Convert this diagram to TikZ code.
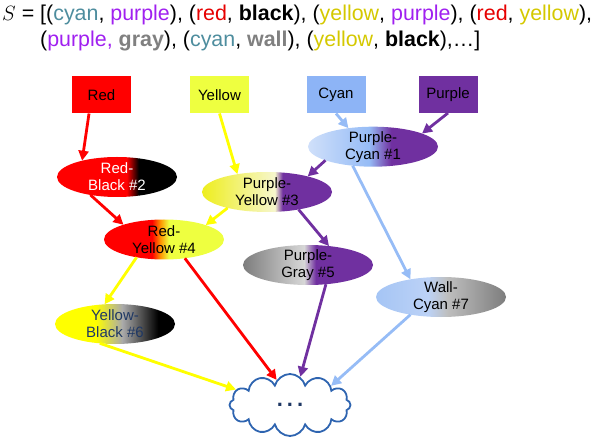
\documentclass[tikz,border=0pt]{standalone}
\usepackage{fontspec}
\setmainfont{Liberation Sans}
\usetikzlibrary{arrows.meta,shapes.geometric,shapes.symbols}

\definecolor{boxred}{RGB}{255,0,0}
\definecolor{boxyellow}{RGB}{238,255,64}
\definecolor{boxcyan}{RGB}{141,180,246}
\definecolor{boxpurple}{RGB}{112,48,160}
\definecolor{arryellow}{RGB}{255,255,0}
\definecolor{arrcyan}{RGB}{150,188,246}
\definecolor{cloudblue}{RGB}{46,100,176}
\definecolor{navytext}{RGB}{31,56,100}
\definecolor{tcyan}{RGB}{78,141,158}
\definecolor{tpurple}{RGB}{160,32,240}
\definecolor{tred}{RGB}{230,0,0}
\definecolor{tyellow}{RGB}{212,200,0}
\definecolor{tgray}{RGB}{128,128,128}
% colours inside the blobs
\definecolor{paleyellow}{RGB}{246,246,205}
\definecolor{brightyellow}{RGB}{238,238,30}
\definecolor{orangemid}{RGB}{255,150,0}
\definecolor{lightcyan}{RGB}{208,224,250}
\definecolor{darkgray}{RGB}{125,125,125}
\definecolor{lightgray}{RGB}{215,215,215}
\definecolor{midgray}{RGB}{170,170,170}
\definecolor{wallblue}{RGB}{165,197,245}
\definecolor{wallpale}{RGB}{188,210,246}
\definecolor{wallgray}{RGB}{190,190,190}

% the middle 25bp..75bp is what shows on a node
\pgfdeclarehorizontalshading{redblack}{100bp}{color(0bp)=(boxred); color(54bp)=(boxred); color(59bp)=(black); color(100bp)=(black)}
\pgfdeclarehorizontalshading{redyellow}{100bp}{color(0bp)=(boxred); color(45bp)=(boxred); color(48.5bp)=(orangemid); color(52bp)=(boxyellow); color(100bp)=(boxyellow)}
\pgfdeclarehorizontalshading{purpleyellow}{100bp}{color(0bp)=(brightyellow); color(25bp)=(brightyellow); color(53bp)=(paleyellow); color(56bp)=(boxpurple); color(100bp)=(boxpurple)}
\pgfdeclarehorizontalshading{purplecyan}{100bp}{color(0bp)=(lightcyan); color(25bp)=(lightcyan); color(48.5bp)=(arrcyan); color(57bp)=(boxpurple); color(100bp)=(boxpurple)}
\pgfdeclarehorizontalshading{purplegray}{100bp}{color(0bp)=(darkgray); color(25bp)=(darkgray); color(48.5bp)=(lightgray); color(53bp)=(boxpurple); color(100bp)=(boxpurple)}
\pgfdeclarehorizontalshading{yellowblack}{100bp}{color(0bp)=(arryellow); color(42bp)=(arryellow); color(53bp)=(midgray); color(68bp)=(black); color(100bp)=(black)}
\pgfdeclarehorizontalshading{wallcyan}{100bp}{color(0bp)=(wallblue); color(25bp)=(wallblue); color(45bp)=(wallpale); color(52.5bp)=(wallgray); color(75bp)=(darkgray); color(100bp)=(darkgray)}

\begin{document}
\begin{tikzpicture}[x=1bp, y=-1bp,
    font=\fontsize{15bp}{17bp}\selectfont,
    colbox/.style={rectangle, minimum width=59bp, minimum height=37bp, inner sep=0pt, outer sep=0pt},
    blob/.style={ellipse, shade, minimum width=120bp, minimum height=40bp, inner xsep=0pt, inner ysep=-8bp, outer sep=0pt, align=center},
    blob wide/.style={blob, minimum width=130bp},
    arr/.style={line width=2.8bp, -{Triangle[length=10bp,width=10bp]}},
    redarrow/.style={arr, draw=boxred},
    yelarrow/.style={arr, draw=arryellow},
    cyanarrow/.style={arr, draw=arrcyan},
    purparrow/.style={arr, draw=boxpurple}]
  \useasboundingbox (0,0) rectangle (598,439);

  % the list S
  \node (title) at (2,21) [anchor=base west, inner sep=0pt, font=\fontsize{21.4bp}{26bp}\selectfont]
    {$S$ = [(\textcolor{tcyan}{cyan}, \textcolor{tpurple}{purple}), (\textcolor{tred}{red}, \textbf{black}), (\textcolor{tyellow}{yellow}, \textcolor{tpurple}{purple}), (\textcolor{tred}{red}, \textcolor{tyellow}{yellow}),};
  \node (title2) at (40,47) [anchor=base west, inner sep=0pt, font=\fontsize{21.4bp}{26bp}\selectfont]
    {(\textcolor{tpurple}{purple,} \textcolor{tgray}{\textbf{gray}}), (\textcolor{tcyan}{cyan}, \textcolor{tgray}{\textbf{wall}}), (\textcolor{tyellow}{yellow}, \textbf{black}),…]};

  % single colours
  \node (red) at (101.5,95) [colbox, fill=boxred] {Red};
  \node (yellow) at (219.5,95) [colbox, fill=boxyellow] {Yellow};
  \node (cyan) at (336,95) [colbox, fill=boxcyan] {Cyan};
  \node (purple) at (448,94.5) [colbox, fill=boxpurple] {Purple};

  % pairs
  \node (pc1) at (373,146.7) [blob wide, shading=purplecyan] {Purple-\\Cyan \#1};
  \node (rb2) at (117,177) [blob, shading=redblack, text=white] {Red-\\Black \#2};
  \node (py3) at (267,192) [blob wide, shading=purpleyellow] {Purple-\\Yellow \#3};
  \node (ry4) at (164,239.5) [blob, shading=redyellow] {Red-\\Yellow \#4};
  \node (pg5) at (308,265) [blob wide, shading=purplegray] {Purple-\\Gray \#5};
  \node (yb6) at (115,324) [blob, shading=yellowblack, text=navytext] {Yellow-\\Black \#6};
  \node (wc7) at (441,297) [blob wide, shading=wallcyan] {Wall-\\Cyan \#7};

  \node (rest) at (290,405) [cloud, cloud puffs=12, cloud ignores aspect, draw=cloudblue, line width=1.8bp,
    minimum width=121bp, minimum height=62bp, inner sep=0pt, text=navytext]
    {\fontsize{22bp}{22bp}\selectfont\textbf{.\hspace{4bp}.\hspace{4bp}.}};

  \draw [redarrow] (red.236) -- (rb2.155);
  \draw [yelarrow] (yellow.south) -- (py3.149);
  \draw [cyanarrow] (cyan.south) -- (pc1.143);
  \draw [purparrow] (purple.south) -- (pc1.15);
  \draw [purparrow] (pc1.196) -- (py3.21);
  \draw [cyanarrow] (pc1.223) -- (wc7.150);
  \draw [redarrow] (rb2.214) -- (ry4.160);
  \draw [yelarrow] (py3.202) -- (ry4.19);
  \draw [purparrow] (py3.331) -- (pg5.42);
  \draw [yelarrow] (ry4.213) -- (yb6.118);
  \draw [redarrow] (ry4.318) -- (rest.118);
  \draw [purparrow] (pg5.313) -- (rest.70);
  \draw [cyanarrow] (wc7.210) -- (rest.25);
  \draw [yelarrow] (yb6.232) -- (rest.164);
\end{tikzpicture}
\end{document}
